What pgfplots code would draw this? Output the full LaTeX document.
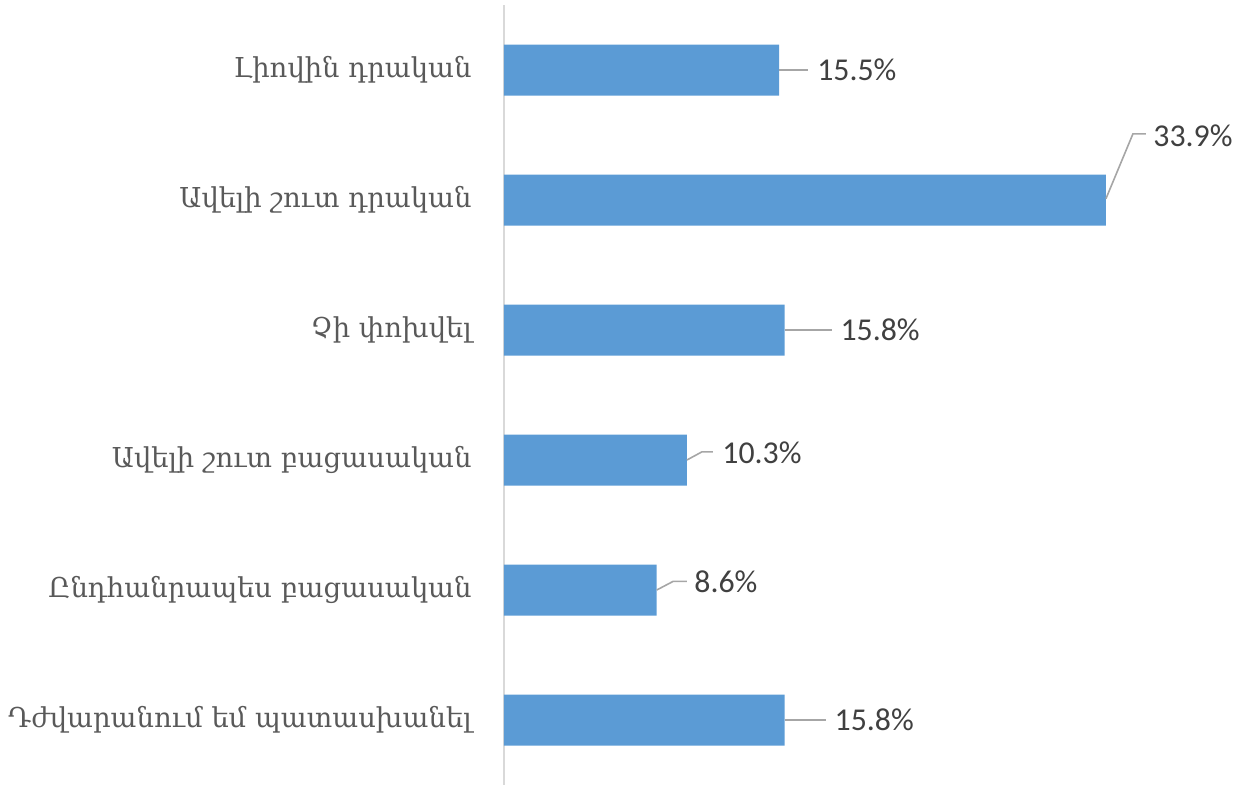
\documentclass[border=0pt]{standalone}
\usepackage{pgfplots}
\pgfplotsset{compat=1.18}
\usepackage{fontspec}
\setmainfont{Carlito}
\newfontfamily\armfont{DejaVu Serif}
\definecolor{barblue}{HTML}{5B9BD5}
\definecolor{lblgray}{HTML}{595959}
\definecolor{valgray}{HTML}{404040}
\definecolor{axgray}{HTML}{D9D9D9}
\definecolor{leadgray}{HTML}{A6A6A6}
\begin{document}
\begin{tikzpicture}[x=1pt,y=1pt]
\begin{axis}[
  at={(0,0)}, anchor=south west,
  scale only axis,
  width=364pt, height=390pt,
  xbar, bar width=25.5pt,
  xmin=0, xmax=41,
  ymin=-0.5, ymax=5.5,
  y dir=reverse,
  axis x line=none,
  axis y line*=left,
  y axis line style={draw=axgray, line width=1pt, -},
  ytick={0,1,2,3,4,5},
  yticklabels={Լիովին դրական, Ավելի շուտ դրական, Չի փոխվել, Ավելի շուտ բացասական, Ընդհանրապես բացասական, Դժվարանում եմ պատասխանել},
  yticklabel style={font=\armfont\fontsize{13.7}{16}\selectfont, text=lblgray, anchor=east, inner sep=0pt, xshift=-16pt},
  major tick length=0pt,
  clip=false,
]
\addplot[fill=barblue, draw=none] coordinates {(15.5,0) (33.9,1) (15.8,2) (10.3,3) (8.6,4) (15.8,5)};
\begin{scope}[draw=leadgray, line width=0.8pt]
\draw (axis cs:15.5,0) -- (axis cs:17.12,0);
\draw (axis cs:33.9,0.99) -- (axis cs:35.42,0.491) -- (axis cs:36.15,0.491);
\draw (axis cs:15.8,2) -- (axis cs:18.47,2);
\draw (axis cs:10.3,3) -- (axis cs:11.15,2.937) -- (axis cs:11.77,2.937);
\draw (axis cs:8.6,4) -- (axis cs:9.52,3.934) -- (axis cs:10.30,3.934);
\draw (axis cs:15.8,5) -- (axis cs:18.13,5);
\end{scope}
\begin{scope}[every node/.style={anchor=west, inner sep=0pt, text=valgray, font=\fontsize{15.9}{18}\selectfont}]
\node at (axis cs:17.62,0) {15.5\%};
\node at (axis cs:36.55,0.506) {33.9\%};
\node at (axis cs:18.93,2) {15.8\%};
\node at (axis cs:12.28,2.945) {10.3\%};
\node at (axis cs:10.70,3.94) {8.6\%};
\node at (axis cs:18.6,5) {15.8\%};
\end{scope}
\end{axis}
\pgfresetboundingbox
\path (-252pt,-1.5pt) rectangle (365pt,392.5pt);
\end{tikzpicture}
\end{document}
